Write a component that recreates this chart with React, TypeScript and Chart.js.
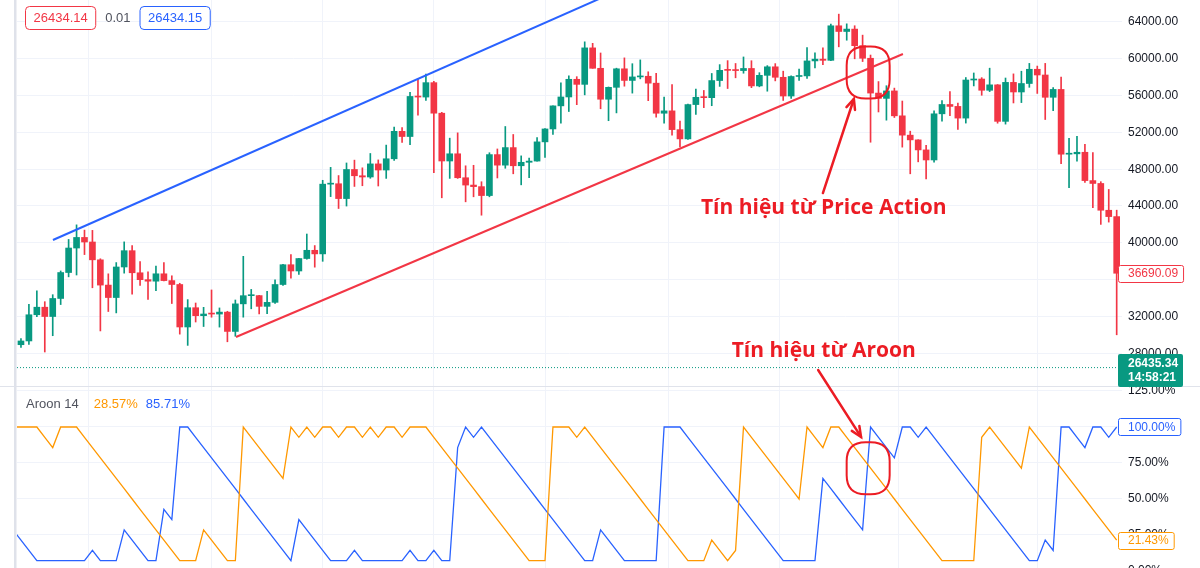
import React, { useEffect, useRef } from "react";
import { Chart, registerables } from "chart.js";

Chart.register(...registerables);

// ---- Daily candles (BTC/USDT, 1 Jan 2021 → 19 May 2021) ----
const opens = [
  28923, 29331, 32178, 33000, 31988, 33949, 36769, 39432, 40582, 40088,
  38150, 35404, 34051, 37371, 39144, 36742, 35994, 35828, 36631, 35891,
  35468, 30850, 32945, 32078, 32259, 32254, 32467, 30366, 33364, 34252,
  34262, 33092, 33526, 35466, 37618, 36936, 38290, 39186, 38795, 46374,
  46420, 44807, 47969, 47287, 47153, 48577, 47911, 49133, 52119, 51552,
  55906, 55841, 57408, 54087, 48891, 49676, 47073, 46276, 46106, 45135,
  49587, 48440, 50349, 48374, 48751, 48882, 50971, 52375, 54884, 55851,
  57773, 57221, 61188, 58968, 55605, 56900, 58912, 57648, 58030, 58102,
  57351, 54083, 54340, 52303, 51293, 55025, 55817, 55777, 57635, 58746,
  58740, 58720, 58950, 57051, 58202, 59129, 57991, 55954, 58077, 58142,
  59769, 59964, 59834, 63588, 62969, 63229, 61427, 60058, 56274, 55696,
  56508, 53801, 51701, 51187, 50097, 49004, 54021, 55034, 54825, 53555,
  57694, 57800, 56578, 57169, 53200, 57436, 56393, 57314, 58862, 58240,
  55816, 56670, 49631, 49671, 49841, 46762, 46450, 43538, 42849,
];
const highs = [
  29600, 33300, 34778, 33600, 34360, 36939, 40365, 41950, 41380, 41350,
  38264, 36628, 37850, 40100, 39700, 37950, 36852, 37469, 37850, 36415,
  35600, 33826, 33456, 32988, 34875, 32921, 32557, 33783, 38531, 34933,
  34288, 34717, 35984, 37662, 38708, 38310, 40955, 39700, 46794, 48200,
  47310, 48678, 48985, 48150, 49707, 49010, 50620, 52580, 52530, 56368,
  57767, 58352, 57539, 54183, 51374, 51950, 48370, 48424, 46638, 49790,
  50200, 52640, 51773, 49448, 49200, 51450, 52402, 54895, 57387, 58150,
  58058, 61844, 61683, 60633, 56938, 58981, 60100, 59468, 59880, 58589,
  58430, 55830, 57200, 53230, 55073, 56700, 56559, 58405, 59368, 59800,
  59490, 60200, 59791, 58492, 59257, 59475, 58655, 58153, 58894, 61218,
  60650, 61200, 63774, 64854, 63800, 63594, 62572, 60409, 57526, 57076,
  56814, 55410, 52132, 51200, 50591, 54356, 55460, 56428, 55200, 57964,
  58459, 57950, 58981, 57200, 57911, 58360, 58650, 59500, 59210, 59500,
  56882, 58000, 51367, 51570, 50700, 49800, 46643, 45800, 43546,
];
const lows = [
  28624, 28946, 31962, 28130, 29900, 33288, 36300, 36500, 38720, 35111,
  30420, 32531, 32380, 36701, 34408, 35357, 33850, 34800, 35844, 33400,
  30071, 28850, 31390, 30900, 31910, 30837, 29241, 29842, 31915, 32825,
  32270, 32296, 33418, 35362, 36161, 36570, 38215, 37351, 37988, 45020,
  43727, 43994, 46125, 46202, 47014, 46174, 47000, 48947, 50901, 50671,
  53863, 55477, 47622, 44892, 47000, 47000, 44454, 45000, 43000, 45000,
  47047, 48100, 47500, 46300, 47070, 48876, 49274, 51789, 53005, 54269,
  55012, 56078, 58967, 54568, 53271, 54120, 57023, 56270, 57820, 55450,
  53650, 53000, 51700, 50427, 51226, 53954, 54691, 54900, 57000, 56769,
  57935, 58432, 56863, 56956, 56478, 57600, 55473, 55700, 57654, 57870,
  59000, 59350, 59793, 61301, 62020, 60000, 59700, 50931, 54221, 53329,
  53620, 50400, 47500, 48800, 46930, 48753, 53222, 53813, 52330, 53013,
  57051, 56035, 56435, 53000, 52900, 55200, 55241, 56900, 56235, 53400,
  54370, 48600, 46000, 48870, 46555, 43825, 42001, 42250, 30000,
];
const closes = [
  29331, 32178, 33000, 31988, 33949, 36769, 39432, 40582, 40088, 38150,
  35404, 34051, 37371, 39144, 36742, 35994, 35828, 36631, 35891, 35468,
  30850, 32945, 32078, 32259, 32254, 32467, 30366, 33364, 34252, 34262,
  33092, 33526, 35466, 37618, 36936, 38290, 39186, 38795, 46374, 46420,
  44807, 47969, 47287, 47153, 48577, 47911, 49133, 52119, 51552, 55906,
  55841, 57408, 54087, 48891, 49676, 47073, 46276, 46106, 45135, 49587,
  48440, 50349, 48374, 48751, 48882, 50971, 52375, 54884, 55851, 57773,
  57221, 61188, 58968, 55605, 56900, 58912, 57648, 58030, 58102, 57351,
  54083, 54340, 52303, 51293, 55025, 55817, 55777, 57635, 58746, 58740,
  58720, 58950, 57051, 58202, 59129, 57991, 55954, 58077, 58142, 59769,
  59964, 59834, 63588, 62969, 63229, 61427, 60058, 56274, 55696, 56508,
  53801, 51701, 51187, 50097, 49004, 54021, 55034, 54825, 53555, 57694,
  57800, 56578, 57169, 53200, 57436, 56393, 57314, 58862, 58240, 55816,
  56670, 49631, 49671, 49841, 46762, 46450, 43538, 42849, 36690.09,
];

// ---- Aroon 14 (first value belongs to the bar before the first candle) ----
const aroonFirstIndex = -1;
const aroonUp = [
  100,
  100, 100, 100, 92.86, 85.71, 100, 100, 100, 92.86, 85.71,
  78.57, 71.43, 64.29, 57.14, 50, 42.86, 35.71, 28.57, 21.43, 14.29,
  7.14, 7.14, 7.14, 28.57, 21.43, 14.29, 7.14, 7.14, 100, 92.86,
  85.71, 78.57, 71.43, 64.29, 100, 92.86, 100, 92.86, 100, 100,
  92.86, 100, 100, 92.86, 100, 92.86, 100, 100, 92.86, 100,
  100, 100, 92.86, 85.71, 78.57, 71.43, 64.29, 57.14, 50, 42.86,
  35.71, 28.57, 21.43, 14.29, 7.14, 7.14, 7.14, 100, 100, 100,
  92.86, 100, 92.86, 85.71, 78.57, 71.43, 64.29, 57.14, 50, 42.86,
  35.71, 28.57, 21.43, 14.29, 7.14, 7.14, 7.14, 21.43, 14.29, 7.14,
  14.29, 100, 92.86, 85.71, 78.57, 71.43, 64.29, 57.14, 50, 100,
  92.86, 85.71, 100, 100, 92.86, 85.71, 78.57, 71.43, 64.29, 57.14,
  50, 42.86, 35.71, 28.57, 21.43, 14.29, 7.14, 7.14, 7.14, 7.14,
  7.14, 92.86, 100, 92.86, 85.71, 78.57, 71.43, 100, 92.86, 85.71,
  78.57, 71.43, 64.29, 57.14, 50, 42.86, 35.71, 28.57, 21.43,
];
const aroonDown = [
  28.57,
  21.43, 14.29, 7.14, 7.14, 7.14, 7.14, 7.14, 7.14, 7.14, 14.29,
  7.14, 7.14, 7.14, 28.57, 21.43, 14.29, 7.14, 7.14, 42.86, 35.71,
  100, 100, 92.86, 85.71, 78.57, 71.43, 64.29, 57.14, 50, 42.86,
  35.71, 28.57, 21.43, 14.29, 7.14, 35.71, 28.57, 21.43, 14.29, 7.14,
  7.14, 7.14, 14.29, 7.14, 7.14, 7.14, 7.14, 7.14, 7.14, 14.29,
  7.14, 7.14, 14.29, 7.14, 7.14, 85.71, 100, 92.86, 100, 92.86,
  85.71, 78.57, 71.43, 64.29, 57.14, 50, 42.86, 35.71, 28.57, 21.43,
  14.29, 7.14, 7.14, 28.57, 21.43, 14.29, 7.14, 7.14, 7.14, 7.14,
  7.14, 100, 100, 100, 92.86, 85.71, 78.57, 71.43, 64.29, 57.14,
  50, 42.86, 35.71, 28.57, 21.43, 14.29, 7.14, 7.14, 7.14, 7.14,
  7.14, 64.29, 57.14, 50, 42.86, 35.71, 28.57, 100, 92.86, 85.71,
  78.57, 100, 100, 92.86, 100, 92.86, 85.71, 78.57, 71.43, 64.29,
  57.14, 50, 42.86, 35.71, 28.57, 21.43, 14.29, 7.14, 7.14, 21.43,
  14.29, 100, 100, 92.86, 85.71, 100, 100, 92.86, 100,
];

// axis ticks
const timeGridIndex = [0, 17, 31, 45, 59, 73, 90, 101, 120, 136];
const priceTicks = [28000, 32000, 36000, 40000, 44000, 48000, 52000, 56000, 60000, 64000];
const aroonTicks = [0, 25, 50, 75, 100, 125];

// header / legend texts
const lastPrice = 26435.34;
const lastTime = "14:58:21";
const headerBid = "26434.14";
const headerSpread = "0.01";
const headerAsk = "26434.15";
const legendTitle = "Aroon 14";
const legendUp = "28.57%";
const legendDown = "85.71%";

// trend lines & annotations (data coordinates: [candle index, value])
const blueTrend = [[4.03, 40303], [75, 67343]];
const redTrend = [[27.08, 29760], [111.08, 60522]];
const priceCircle = [106.7, 58510];
const aroonCircle = [106.7, 71.3];
const priceNote = { at: [101.1, 43130], text: "Tín hiệu từ Price Action" };
const aroonNote = { at: [101.1, 27586], text: "Tín hiệu từ Aroon" };
const priceArrow = { from: [101.0, 45410], to: [104.9, 55630] };
const aroonArrow = { from: [100.4, 26170], to: [105.8, 93.1] };

// ---- styling / layout ----
const W = 1200;
const H = 580;
const UP = "#089981";
const DOWN = "#f23645";
const BLUE = "#2962ff";
const ORANGE = "#ff9800";
const TEXT = "#131722";
const GRID = "#f0f3fa";
const ANN = "#ec1c24";
const FONT = '"Liberation Sans", Arial, sans-serif';
const PRICE_MIN = 24435;
const PRICE_MAX = 66391;
const AROON_MIN = -6.25;
const AROON_MAX = 128.47;
const X_MIN = -0.5;
const X_MAX = 138.67;

function roundRect(ctx: CanvasRenderingContext2D, x: number, y: number, w: number, h: number, r: number) {
  ctx.beginPath();
  ctx.moveTo(x + r, y);
  ctx.lineTo(x + w - r, y);
  ctx.quadraticCurveTo(x + w, y, x + w, y + r);
  ctx.lineTo(x + w, y + h - r);
  ctx.quadraticCurveTo(x + w, y + h, x + w - r, y + h);
  ctx.lineTo(x + r, y + h);
  ctx.quadraticCurveTo(x, y + h, x, y + h - r);
  ctx.lineTo(x, y + r);
  ctx.quadraticCurveTo(x, y, x + r, y);
  ctx.closePath();
}

function arrow(ctx: CanvasRenderingContext2D, x1: number, y1: number, x2: number, y2: number) {
  ctx.beginPath();
  ctx.moveTo(x1, y1);
  ctx.lineTo(x2, y2);
  ctx.stroke();
  const a = Math.atan2(y2 - y1, x2 - x1);
  const len = 11;
  ctx.beginPath();
  ctx.moveTo(x2 - len * Math.cos(a - 0.42), y2 - len * Math.sin(a - 0.42));
  ctx.lineTo(x2, y2);
  ctx.lineTo(x2 - len * Math.cos(a + 0.42), y2 - len * Math.sin(a + 0.42));
  ctx.stroke();
}

const overlayPlugin = {
  id: "overlay",
  afterDraw(chart: any) {
    const { ctx, chartArea } = chart;
    const xs = chart.scales.x;
    const ys = chart.scales.y;
    const ys2 = chart.scales.y2;
    ctx.save();

    // pane separator & left border
    ctx.fillStyle = "#e0e3eb";
    ctx.fillRect(0, Math.round(ys2.top), W, 1);
    ctx.fillStyle = "#dfe2ea";
    ctx.fillRect(chartArea.left - 3, 0, 2.5, H);

    // header quote boxes
    ctx.font = `13px ${FONT}`;
    ctx.textBaseline = "middle";
    ctx.textAlign = "left";
    const hdr = (text: string, x: number, color: string, boxed: boolean) => {
      const tw = ctx.measureText(text).width;
      if (boxed) {
        ctx.fillStyle = "#ffffff";
        roundRect(ctx, x + 0.5, 6.5, tw + 16, 23, 4);
        ctx.fill();
        ctx.strokeStyle = color;
        ctx.lineWidth = 1;
        ctx.stroke();
        ctx.fillStyle = color;
        ctx.fillText(text, x + 8.5, 18.5);
        return x + tw + 17;
      }
      ctx.fillStyle = color;
      ctx.fillText(text, x, 18.5);
      return x + tw;
    };
    let hx = hdr(headerBid, 25, DOWN, true);
    hx = hdr(headerSpread, hx + 9, "#50535e", false);
    hdr(headerAsk, hx + 9, BLUE, true);

    // Aroon legend
    const ly = ys2.top + 18;
    ctx.fillStyle = "#50535e";
    ctx.fillText(legendTitle, 26, ly);
    let lx = 26 + ctx.measureText(legendTitle).width + 15;
    ctx.fillStyle = ORANGE;
    ctx.fillText(legendUp, lx, ly);
    lx += ctx.measureText(legendUp).width + 8;
    ctx.fillStyle = BLUE;
    ctx.fillText(legendDown, lx, ly);

    // right-axis value boxes
    const boxLeft = chartArea.right - 4;
    const textLeft = chartArea.right + 6;
    ctx.font = `12px ${FONT}`;
    const vbox = (cy: number, text: string, color: string) => {
      const tw = ctx.measureText(text).width;
      const w = textLeft - boxLeft + tw + 5;
      ctx.fillStyle = "#ffffff";
      roundRect(ctx, boxLeft + 0.5, Math.round(cy - 8.5) + 0.5, w, 17, 2);
      ctx.fill();
      ctx.strokeStyle = color;
      ctx.lineWidth = 1;
      ctx.stroke();
      ctx.fillStyle = color;
      ctx.fillText(text, textLeft, cy + 0.5);
    };
    vbox(ys.getPixelForValue(closes[closes.length - 1]), closes[closes.length - 1].toFixed(2), DOWN);
    vbox(ys2.getPixelForValue(aroonDown[aroonDown.length - 1]), aroonDown[aroonDown.length - 1].toFixed(2) + "%", BLUE);
    vbox(ys2.getPixelForValue(aroonUp[aroonUp.length - 1]), aroonUp[aroonUp.length - 1].toFixed(2) + "%", ORANGE);

    // current price tag
    const py = ys.getPixelForValue(lastPrice);
    ctx.fillStyle = UP;
    roundRect(ctx, boxLeft, Math.round(py - 13.5), 65, 33, 2);
    ctx.fill();
    ctx.fillStyle = "#ffffff";
    ctx.font = `bold 12px ${FONT}`;
    ctx.fillText(lastPrice.toFixed(2), textLeft, py - 3.5);
    ctx.fillText(lastTime, textLeft, py + 10.5);

    // annotations
    ctx.strokeStyle = ANN;
    ctx.fillStyle = ANN;
    ctx.lineWidth = 2;
    const cw = 43;
    const ch = 52;
    const c1x = xs.getPixelForValue(priceCircle[0]);
    const c1y = ys.getPixelForValue(priceCircle[1]);
    roundRect(ctx, c1x - cw / 2, c1y - ch / 2, cw, ch, 19);
    ctx.stroke();
    const c2x = xs.getPixelForValue(aroonCircle[0]);
    const c2y = ys2.getPixelForValue(aroonCircle[1]);
    roundRect(ctx, c2x - cw / 2, c2y - ch / 2, cw, ch, 19);
    ctx.stroke();

    ctx.lineWidth = 2.5;
    ctx.lineCap = "round";
    arrow(
      ctx,
      xs.getPixelForValue(priceArrow.from[0]), ys.getPixelForValue(priceArrow.from[1]),
      xs.getPixelForValue(priceArrow.to[0]), ys.getPixelForValue(priceArrow.to[1])
    );
    arrow(
      ctx,
      xs.getPixelForValue(aroonArrow.from[0]), ys.getPixelForValue(aroonArrow.from[1]),
      xs.getPixelForValue(aroonArrow.to[0]), ys2.getPixelForValue(aroonArrow.to[1])
    );

    ctx.font = `bold 21px "Open Sans", "Noto Sans", sans-serif`;
    ctx.textAlign = "center";
    ctx.textBaseline = "alphabetic";
    ctx.fillText(priceNote.text, xs.getPixelForValue(priceNote.at[0]), ys.getPixelForValue(priceNote.at[1]));
    ctx.fillText(aroonNote.text, xs.getPixelForValue(aroonNote.at[0]), ys.getPixelForValue(aroonNote.at[1]));

    ctx.restore();
  },
};

export default function App() {
  const ref = useRef<HTMLCanvasElement | null>(null);

  useEffect(() => {
    if (!ref.current) return;
    Chart.defaults.font.family = FONT;
    const idx = closes.map((_, i) => i);
    const colors = idx.map((i) => (closes[i] >= opens[i] ? UP : DOWN));
    const bodies = idx.map((i) => ({ x: i, y: [opens[i], closes[i]] }));
    const wicks = idx.map((i) => ({ x: i, y: [lows[i], highs[i]] }));
    const upLine = aroonUp.map((v, k) => ({ x: aroonFirstIndex + k, y: v }));
    const downLine = aroonDown.map((v, k) => ({ x: aroonFirstIndex + k, y: v }));
    const toPts = (seg: number[][]) => seg.map(([x, y]) => ({ x, y }));
    const noPad = (s: any) => {
      s.width = 78;
      s.paddingTop = 0;
      s.paddingBottom = 0;
    };

    const chart = new Chart(ref.current, {
      type: "bar",
      data: {
        datasets: [
          { type: "line", data: toPts(blueTrend), borderColor: BLUE, borderWidth: 2, pointRadius: 0, yAxisID: "y", order: 0 } as any,
          { type: "line", data: toPts(redTrend), borderColor: DOWN, borderWidth: 2, pointRadius: 0, yAxisID: "y", order: 0 } as any,
          {
            type: "bar",
            data: bodies,
            backgroundColor: colors,
            borderWidth: 0,
            barThickness: 6,
            minBarLength: 1,
            grouped: false,
            yAxisID: "y",
            order: 1,
          } as any,
          {
            type: "bar",
            data: wicks,
            backgroundColor: colors,
            borderWidth: 0,
            barThickness: 1,
            grouped: false,
            yAxisID: "y",
            order: 2,
          } as any,
          {
            type: "line",
            data: [{ x: X_MIN, y: lastPrice }, { x: X_MAX, y: lastPrice }],
            borderColor: UP,
            borderWidth: 1,
            borderDash: [1, 2],
            pointRadius: 0,
            yAxisID: "y",
            order: 3,
          } as any,
          { type: "line", data: upLine, borderColor: ORANGE, borderWidth: 1.3, pointRadius: 0, tension: 0, yAxisID: "y2", order: 0 } as any,
          { type: "line", data: downLine, borderColor: BLUE, borderWidth: 1.3, pointRadius: 0, tension: 0, yAxisID: "y2", order: 0 } as any,
        ],
      },
      options: {
        responsive: false,
        animation: false,
        devicePixelRatio: 1,
        events: [],
        layout: { padding: { left: 17, right: 0, top: 0, bottom: 0 } },
        plugins: { legend: { display: false }, tooltip: { enabled: false } },
        scales: {
          x: {
            type: "linear",
            min: X_MIN,
            max: X_MAX,
            offset: false,
            grid: { color: GRID, drawTicks: false },
            border: { display: false },
            ticks: { display: false },
            afterBuildTicks: (s: any) => {
              s.ticks = timeGridIndex.map((v) => ({ value: v }));
            },
            afterFit: (s: any) => {
              s.height = 0;
              s.paddingLeft = 0;
              s.paddingRight = 0;
            },
          },
          y: {
            type: "linear",
            position: "right",
            stack: "panes",
            stackWeight: 386,
            min: PRICE_MIN,
            max: PRICE_MAX,
            grid: { color: GRID, drawTicks: false },
            border: { display: false },
            ticks: {
              padding: 6,
              color: TEXT,
              font: { size: 12 },
              autoSkip: false,
              callback: (v: any) => Number(v).toFixed(2),
            },
            afterBuildTicks: (s: any) => {
              s.ticks = priceTicks.map((v) => ({ value: v }));
            },
            afterFit: noPad,
          },
          y2: {
            type: "linear",
            position: "right",
            stack: "panes",
            stackWeight: 194,
            min: AROON_MIN,
            max: AROON_MAX,
            grid: { color: GRID, drawTicks: false },
            border: { display: false },
            ticks: {
              padding: 6,
              color: TEXT,
              font: { size: 12 },
              autoSkip: false,
              callback: (v: any) => Number(v).toFixed(2) + "%",
            },
            afterBuildTicks: (s: any) => {
              s.ticks = aroonTicks.map((v) => ({ value: v }));
            },
            afterFit: noPad,
          },
        },
      } as any,
      plugins: [overlayPlugin],
    });
    return () => chart.destroy();
  }, []);

  return (
    <div
      style={{
        position: "fixed",
        left: 0,
        top: 0,
        width: W,
        height: 568,
        overflow: "hidden",
        background: "#ffffff",
      }}
    >
      <canvas ref={ref} width={W} height={H} style={{ display: "block", width: W, height: H }} />
    </div>
  );
}
